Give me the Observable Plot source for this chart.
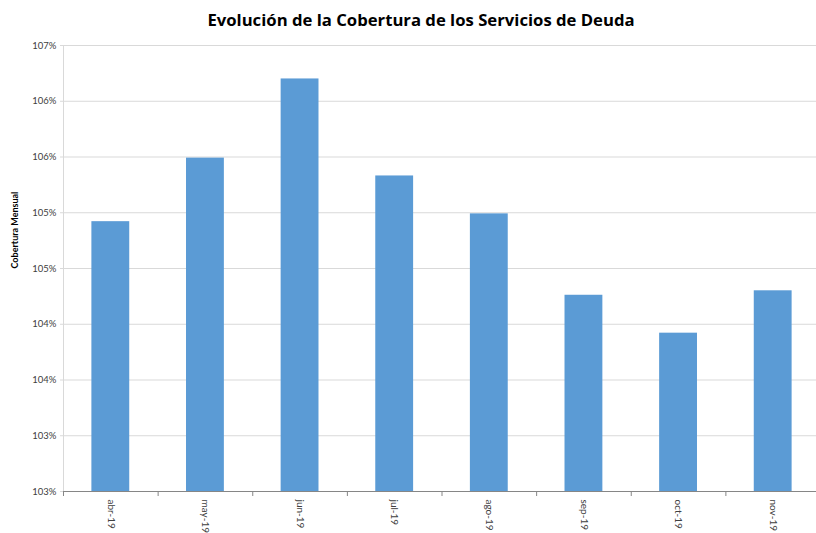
<!DOCTYPE html>
<html>
<head>
<meta charset="utf-8">
<script src="https://cdn.jsdelivr.net/npm/d3@7"></script>
<script src="https://cdn.jsdelivr.net/npm/@observablehq/plot@0.6"></script>
<style>
  body { margin: 0; background: #fff; font-family: Lato, "Open Sans", sans-serif; overflow: hidden; }
  #title { height: 40px; line-height: 40px; text-align: center; font-family: "Open Sans", sans-serif; font-weight: bold; font-size: 16.7px; color: #000; padding-left: 26px; box-sizing: border-box; width: 816px; }
</style>
</head>
<body>
<div id="title">Evolución de la Cobertura de los Servicios de Deuda</div>
<div id="chart"></div>
<script>
const months = ["abr-19", "may-19", "jun-19", "jul-19", "ago-19", "sep-19", "oct-19", "nov-19"];
const coverage = [104.92, 105.49, 106.20, 105.33, 104.99, 104.26, 103.92, 104.30];
const yTicks = [102.5, 103, 103.5, 104, 104.5, 105, 105.5, 106, 106.5];
const yTickLabels = ["103%", "103%", "104%", "104%", "105%", "105%", "106%", "106%", "107%"];
const yLabel = "Cobertura Mensual";

const data = months.map((m, i) => ({month: m, value: coverage[i]}));

const W = 816, H = 493, mL = 63, mR = -4, mT = 5, mB = 42;
const step = (W - mL - mR) / months.length;

const chart = Plot.plot({
  width: W,
  height: H,
  marginLeft: mL,
  marginRight: mR,
  marginTop: mT,
  marginBottom: mB,
  style: {fontFamily: "Lato, 'Open Sans', sans-serif", background: "#fff", overflow: "hidden"},
  x: {domain: months, paddingInner: 0.6, paddingOuter: 0.3, round: false, label: null},
  y: {domain: [102.5, 106.5], label: null},
  marks: [
    Plot.gridY(yTicks, {stroke: "#d9d9d9", strokeOpacity: 1, strokeWidth: 1}),
    Plot.ruleX([0], {x: () => months[0], dx: -step / 2, stroke: "#d9d9d9"}),
    Plot.axisY(yTicks, {tickFormat: (d, i) => yTickLabels[i], tickSize: 3, tickPadding: 4, stroke: "#d9d9d9", fill: "#404040", fontSize: 9.5, label: null}),
    Plot.barY(data, {x: "month", y1: 102.5, y2: "value", fill: "#5b9bd5"}),
    Plot.axisX({ticks: months, tickSize: 5, stroke: "#868686", tickFormat: () => "", dx: -step / 2, label: null}),
    Plot.ruleY([102.5], {stroke: "#868686"}),
    Plot.axisX({tickSize: 0, tickRotate: 90, tickPadding: 8, fill: "#404040", fontSize: 10, label: null}),
    Plot.text([yLabel], {frameAnchor: "left", rotate: -90, dx: -48, fontWeight: "bold", fontSize: 9, fill: "#000"})
  ]
});
document.getElementById("chart").appendChild(chart);
</script>
</body>
</html>
